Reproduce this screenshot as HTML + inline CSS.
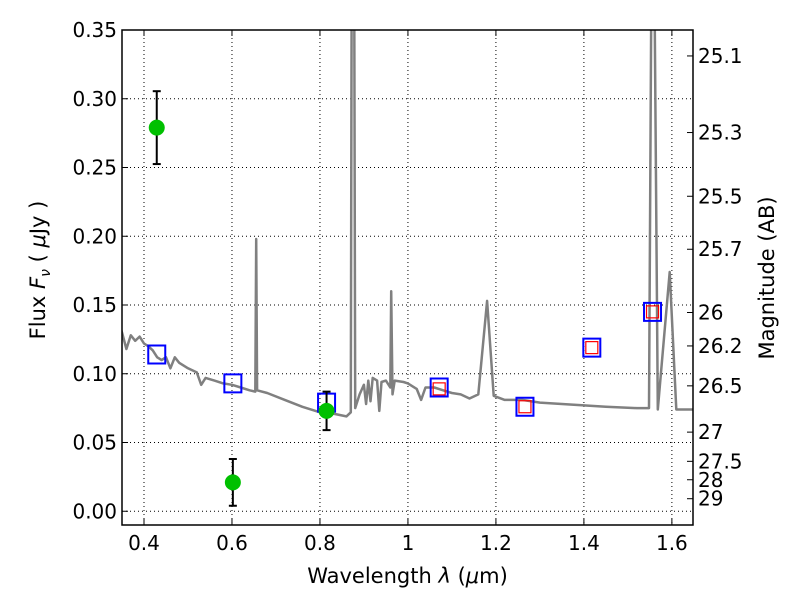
<!DOCTYPE html>
<html><head><meta charset="utf-8"><style>
html,body{margin:0;padding:0;background:#fff;}
svg text{font-family:"DejaVu Sans","Liberation Sans",sans-serif;fill:#000;}
</style></head><body>
<svg id="chart" width="800" height="600" viewBox="0 0 800 600">
<g id="grid"></g>
<g id="plot"></g>
<g id="axes"></g>
</svg>
<script>
const xTicks=[0.4,0.6,0.8,1.0,1.2,1.4,1.6];
const xTickLabels=["0.4","0.6","0.8","1","1.2","1.4","1.6"];
const yTicks=[0,0.05,0.10,0.15,0.20,0.25,0.30,0.35];
const yTickLabels=["0.00","0.05","0.10","0.15","0.20","0.25","0.30","0.35"];
const magTicks=[25.1,25.3,25.5,25.7,26,26.2,26.5,27,27.5,28,29];
const magTickLabels=["25.1","25.3","25.5","25.7","26","26.2","26.5","27","27.5","28","29"];
const specWl=[0.345,0.35,0.36,0.37,0.38,0.39,0.40,0.41,0.42,0.43,0.44,0.45,0.46,0.47,0.48,0.50,0.52,0.53,0.54,0.56,0.58,0.60,0.62,0.64,0.653,0.655,0.657,0.68,0.72,0.76,0.80,0.83,0.86,0.87,0.872,0.878,0.88,0.89,0.90,0.905,0.91,0.915,0.92,0.93,0.935,0.94,0.95,0.96,0.962,0.965,0.97,0.99,1.00,1.02,1.03,1.04,1.06,1.08,1.10,1.12,1.14,1.16,1.18,1.195,1.22,1.26,1.30,1.35,1.40,1.45,1.52,1.548,1.553,1.561,1.568,1.595,1.61,1.65];
const specFlux=[0.135,0.130,0.118,0.128,0.124,0.127,0.122,0.120,0.117,0.112,0.110,0.112,0.104,0.112,0.108,0.104,0.101,0.092,0.097,0.095,0.093,0.092,0.090,0.088,0.087,0.198,0.088,0.086,0.081,0.076,0.072,0.071,0.069,0.072,0.36,0.36,0.075,0.085,0.092,0.078,0.095,0.080,0.097,0.095,0.073,0.094,0.095,0.090,0.160,0.085,0.095,0.094,0.093,0.089,0.081,0.090,0.090,0.088,0.086,0.085,0.082,0.085,0.153,0.084,0.081,0.081,0.079,0.078,0.077,0.076,0.075,0.075,0.36,0.36,0.074,0.174,0.074,0.074];
const modelWl=[0.429,0.602,0.815,1.071,1.266,1.418,1.556];
const modelFlux=[0.114,0.093,0.079,0.090,0.076,0.119,0.145];
const redWl=[1.071,1.266,1.418,1.556];
const redFlux=[0.089,0.076,0.119,0.145];
const obsWl=[0.429,0.602,0.815];
const obsFlux=[0.279,0.021,0.073];
const obsErr=[0.0265,0.017,0.014];

const X0=122,X1=693,Y0=30,Y1=525,xmin=0.35,xmax=1.648,ymin=-0.01,ymax=0.35;
const sx=v=>X0+(v-xmin)/(xmax-xmin)*(X1-X0);
const sy=v=>Y1-(v-ymin)/(ymax-ymin)*(Y1-Y0);
const NS="http://www.w3.org/2000/svg";
function mk(tag,attrs,parent){const e=document.createElementNS(NS,tag);for(const k in attrs)e.setAttribute(k,attrs[k]);parent.appendChild(e);return e;}
const grid=document.getElementById('grid'),plot=document.getElementById('plot'),axes=document.getElementById('axes');

xTicks.forEach((t,i)=>{
  const x=sx(t);
  const g=mk('line',{x1:x,x2:x,y1:Y0,y2:Y1,stroke:'#000','stroke-width':1,'stroke-dasharray':'1,3'},grid);
  
  
  const a=mk('line',{x1:x,x2:x,y1:Y1,y2:Y1-6,stroke:'#000'},axes);
  
  
  const b=mk('line',{x1:x,x2:x,y1:Y0,y2:Y0+6,stroke:'#000'},axes);
  
  
  const tx=mk('text',{x:x,y:Y1+25,'text-anchor':'middle','font-size':20},axes);
  tx.textContent=xTickLabels[i];
  
  
});
yTicks.forEach((t,i)=>{
  const y=sy(t);
  const g=mk('line',{x1:X0,x2:X1,y1:y,y2:y,stroke:'#000','stroke-width':1,'stroke-dasharray':'1,3'},grid);
  
  
  const a=mk('line',{x1:X0,x2:X0+6,y1:y,y2:y,stroke:'#000'},axes);
  
  
  const tx=mk('text',{x:X0-5,y:y+7,'text-anchor':'end','font-size':20},axes);
  tx.textContent=yTickLabels[i];
  
  
});
magTicks.forEach((m,i)=>{
  const y=sy(Math.pow(10,(23.9-m)/2.5));
  const a=mk('line',{x1:X1,x2:X1-6,y1:y,y2:y,stroke:'#000'},axes);
  
  
  const tx=mk('text',{x:X1+5,y:y+7,'font-size':20},axes);
  tx.textContent=magTickLabels[i];
  
  
});

const defs=mk('defs',{},plot);
const cp=mk('clipPath',{id:'clip'},defs);
mk('rect',{x:X0,y:Y0,width:X1-X0,height:Y1-Y0},cp);
const pts=specWl.map((w,i)=>sx(w).toFixed(1)+','+sy(specFlux[i]).toFixed(1)).join(' ');
const sp=mk('polyline',{points:pts,fill:'none',stroke:'#808080','stroke-width':2.5,'stroke-linejoin':'round','clip-path':'url(#clip)'},plot);



modelWl.forEach((w,i)=>{
  const r=mk('rect',{x:sx(w)-8.5,y:sy(modelFlux[i])-9,width:17,height:18,fill:'none',stroke:'#0000ff','stroke-width':2},plot);
  
  
});
redWl.forEach((w,i)=>{
  const r=mk('rect',{x:sx(w)-6,y:sy(redFlux[i])-6,width:12,height:12,fill:'none',stroke:'#ff0000','stroke-width':1.2},plot);
  
  
});
obsWl.forEach((w,i)=>{
  const x=sx(w),yt=sy(obsFlux[i]+obsErr[i]),yb=sy(obsFlux[i]-obsErr[i]);
  const l=mk('line',{x1:x,x2:x,y1:yt,y2:yb,stroke:'#000','stroke-width':2},plot);
  
  
  mk('line',{x1:x-4,x2:x+4,y1:yt,y2:yt,stroke:'#000','stroke-width':2},plot);
  mk('line',{x1:x-4,x2:x+4,y1:yb,y2:yb,stroke:'#000','stroke-width':2},plot);
  const c=mk('circle',{cx:x,cy:sy(obsFlux[i]),r:8,fill:'#00c000'},plot);
  
  
});

const fr=mk('rect',{x:X0,y:Y0,width:X1-X0,height:Y1-Y0,fill:'none',stroke:'#000','stroke-width':1.5},axes);


const xl=mk('text',{x:(X0+X1)/2,y:583,'text-anchor':'middle','font-size':21},axes);
xl.innerHTML='Wavelength  <tspan font-style="italic">λ</tspan> (<tspan font-style="italic">μ</tspan>m)';
xl.setAttribute('xml:space','preserve');


const yl=mk('text',{x:0,y:0,'text-anchor':'middle','font-size':21,transform:'translate(45,270) rotate(-90)'},axes);
yl.innerHTML='Flux  <tspan font-style="italic">F</tspan><tspan font-style="italic" font-size="14" dy="5">ν</tspan><tspan dy="-5">  (  </tspan><tspan font-style="italic">μ</tspan>Jy )';
yl.setAttribute('xml:space','preserve');


const ml=mk('text',{x:0,y:0,'text-anchor':'middle','font-size':21,transform:'translate(774,278) rotate(-90)'},axes);
ml.textContent='Magnitude (AB)';


</script>
</body></html>
